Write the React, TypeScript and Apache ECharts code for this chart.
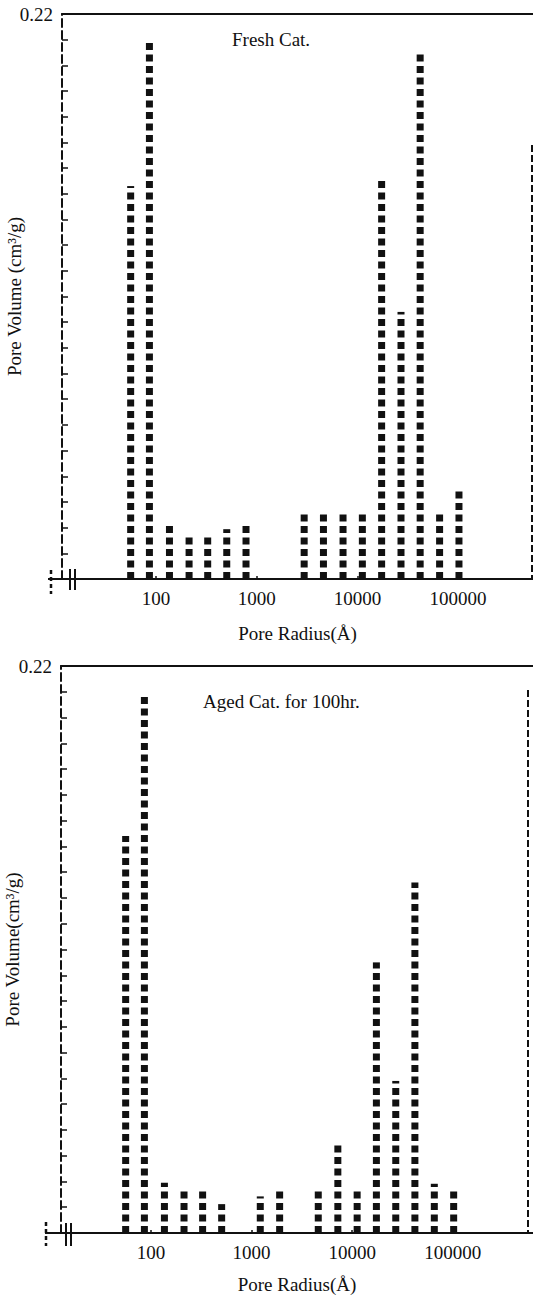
import React, { useEffect, useRef } from 'react';
import * as echarts from 'echarts';

// ---- data ----
const poreRadius = [56, 86, 136, 213, 326, 504, 783, 1220, 1900, 2960, 4600, 7200, 11200, 17400, 27100, 42000, 65500, 102000];
const freshVolume = [0.153, 0.210, 0.022, 0.018, 0.018, 0.0194, 0.022, null, null, 0.0253, 0.0253, 0.027, 0.027, 0.157, 0.104, 0.206, 0.0269, 0.0362];
const agedVolume = [0.154, 0.208, 0.0195, 0.0162, 0.0173, 0.0112, null, 0.0142, 0.0162, null, 0.0162, 0.0344, 0.0169, 0.105, 0.059, 0.136, 0.0191, 0.0165];
const xTickLabels = ['100', '1000', '10000', '100000'];
const yTickLabels = ['0.22'];
const yMin = 0;
const yMax = 0.22;
const yStep = 0.01;
const panelTitles = ['Fresh Cat.', 'Aged Cat. for 100hr.'];
const yAxisNames = ['Pore Volume (cm\u00b3/g)', 'Pore Volume(cm\u00b3/g)'];
const xAxisName = 'Pore Radius(\u00c5)';
// axis extents (log axis, including the broken part on the left)
const xExtentTop = [11.65, 554400];
const xExtentBottom = [12.75, 626900];

const FONT = 'Liberation Serif, DejaVu Serif, serif';
const INK = '#111';
const FS = 19;

const renderDots = (params: any, api: any) => {
  const x = api.value(0);
  const v = api.value(1);
  const base = api.coord([x, 0]);
  const top = api.coord([x, v]);
  const w = 7;
  const h = 7;
  const pitch = 11.5;
  const children: any[] = [];
  let bottom = base[1];
  while (bottom - top[1] > 1.5) {
    const y0 = Math.max(bottom - h, top[1]);
    children.push({
      type: 'rect',
      shape: { x: base[0] - w / 2, y: y0, width: w, height: bottom - y0 },
      style: { fill: INK },
    });
    bottom -= pitch;
  }
  return { type: 'group', children };
};

const xLabelFormatter = (v: number) => {
  const l = Math.log10(v);
  const r = Math.round(l);
  const s = String(Math.pow(10, r));
  return Math.abs(l - r) < 1e-6 && xTickLabels.includes(s) ? s : '';
};
const yLabelFormatter = (v: number) => {
  const hit = yTickLabels.find((t) => Math.abs(parseFloat(t) - v) < 1e-6);
  return hit ? hit : '';
};

const bottomXAxis = (gridIndex: number, ext: number[], nameGap: number) => ({
  type: 'log',
  logBase: 10,
  gridIndex,
  min: ext[0],
  max: ext[1],
  axisLine: { show: true, lineStyle: { color: INK, width: 2 } },
  axisTick: { show: true, inside: true, length: 3, lineStyle: { color: INK, width: 1.5 } },
  minorTick: { show: false },
  splitLine: { show: false },
  axisLabel: {
    formatter: xLabelFormatter,
    fontFamily: FONT,
    fontSize: FS,
    color: INK,
    margin: 10,
    showMinLabel: false,
    showMaxLabel: false,
  },
  name: xAxisName,
  nameLocation: 'middle',
  nameGap,
  nameMoveOverlap: false,
  nameTextStyle: { fontFamily: FONT, fontSize: FS, color: INK },
});

const topXAxis = (gridIndex: number, ext: number[]) => ({
  type: 'log',
  logBase: 10,
  gridIndex,
  position: 'top',
  min: ext[0],
  max: ext[1],
  axisLine: { show: true, lineStyle: { color: INK, width: 2 } },
  axisTick: { show: false },
  axisLabel: { show: false },
  splitLine: { show: false },
});

const leftYAxis = (gridIndex: number, name: string, nameGap: number) => ({
  type: 'value',
  gridIndex,
  min: yMin,
  max: yMax,
  interval: yStep,
  axisLine: { show: true, lineStyle: { color: INK, width: 2, type: [8, 4] } },
  axisTick: { show: true, inside: true, interval: 0, length: 6, lineStyle: { color: INK, width: 1.5 } },
  splitLine: { show: false },
  axisLabel: { interval: 0, formatter: yLabelFormatter, fontFamily: FONT, fontSize: FS, color: INK, margin: 9 },
  name,
  nameLocation: 'middle',
  nameGap,
  nameMoveOverlap: false,
  nameTextStyle: { fontFamily: FONT, fontSize: FS, color: INK },
});

const lineEl = (x1: number, y1: number, x2: number, y2: number, width = 2, dash?: number[]) => ({
  type: 'line',
  shape: { x1, y1, x2, y2 },
  style: { stroke: INK, lineWidth: width, lineDash: dash },
  silent: true,
});

export default function App() {
  const ref = useRef<HTMLDivElement>(null);
  useEffect(() => {
    if (!ref.current) return;
    const chart = echarts.init(ref.current, null, { renderer: 'svg' });
    const pairs = (vals: (number | null)[]) =>
      poreRadius.map((r, i) => [r, vals[i]]).filter((d) => d[1] != null);
    const titleStyle = { fontFamily: FONT, fontSize: FS, fontWeight: 'normal', color: INK };
    chart.setOption({
      animation: false,
      backgroundColor: '#fff',
      title: [
        { text: panelTitles[0], left: 232, top: 30, padding: 0, textStyle: titleStyle },
        { text: panelTitles[1], left: 203, top: 692, padding: 0, textStyle: titleStyle },
      ],
      grid: [
        { left: 62, top: 14, width: 471, height: 565, outerBoundsMode: 'none', containLabel: false },
        { left: 61, top: 666, width: 472, height: 567, outerBoundsMode: 'none', containLabel: false },
      ],
      xAxis: [
        bottomXAxis(0, xExtentTop, 45),
        topXAxis(0, xExtentTop),
        bottomXAxis(1, xExtentBottom, 42),
        topXAxis(1, xExtentBottom),
      ],
      yAxis: [leftYAxis(0, yAxisNames[0], 38), leftYAxis(1, yAxisNames[1], 39)],
      series: [
        { type: 'custom', xAxisIndex: 0, yAxisIndex: 0, data: pairs(freshVolume), renderItem: renderDots, encode: { x: 0, y: 1 } },
        { type: 'custom', xAxisIndex: 2, yAxisIndex: 1, data: pairs(agedVolume), renderItem: renderDots, encode: { x: 0, y: 1 } },
      ],
      graphic: [
        // axis line extensions to the left and break marks
        lineEl(48, 579, 62, 579),
        lineEl(70, 569, 70, 590),
        lineEl(75, 569, 75, 590),
        lineEl(51, 570, 51, 594, 2.5, [4, 3]),
        lineEl(45, 1233, 61, 1233),
        lineEl(66, 1223, 66, 1246),
        lineEl(71, 1223, 71, 1246),
        lineEl(46, 1222, 46, 1246, 2.5, [4, 3]),
        // right frame borders (dashed)
        lineEl(532, 145, 532, 579, 2, [7, 3]),
        lineEl(528, 690, 528, 1233, 2, [7, 3]),
      ],
    });
    return () => chart.dispose();
  }, []);
  return (
    <div
      ref={ref}
      style={{ position: 'absolute', left: 0, top: 0, width: 533, height: 1298, background: '#fff' }}
    />
  );
}
